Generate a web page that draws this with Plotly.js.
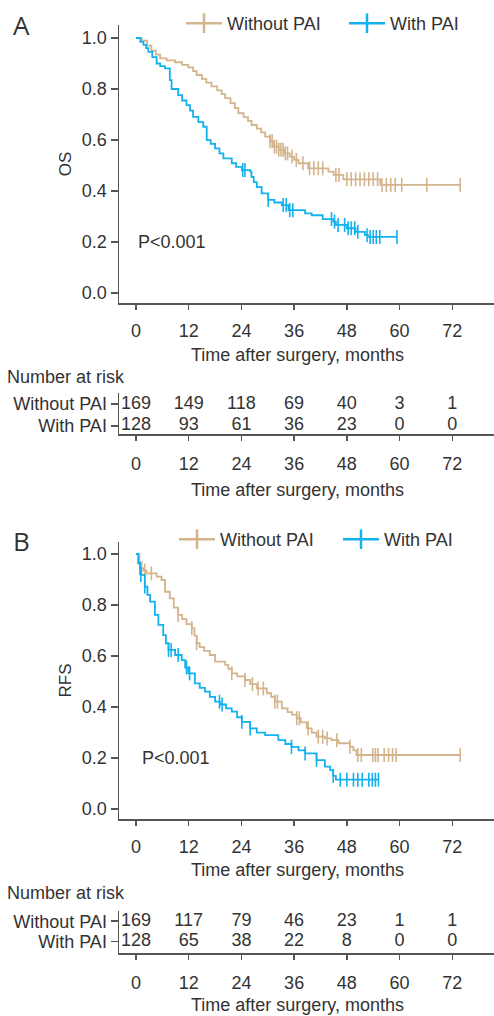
<!DOCTYPE html>
<html>
<head>
<meta charset="utf-8">
<script src="https://cdn.plot.ly/plotly-3.0.1.min.js"></script>
<style>html,body{margin:0;padding:0;background:#fff;}#chart{width:494px;height:1016px;}</style>
</head>
<body>
<div id="chart"></div>
<script>
// ---------- data ----------
const groups = ['Without PAI', 'With PAI'];
const tickTimes = [0, 12, 24, 36, 48, 60, 72];
const xTitle = 'Time after surgery, months';

// Number at risk
const riskA_without = [169, 149, 118, 69, 40, 3, 1];
const riskA_with    = [128, 93, 61, 36, 23, 0, 0];
const riskB_without = [169, 117, 79, 46, 23, 1, 1];
const riskB_with    = [128, 65, 38, 22, 8, 0, 0];

// Panel A: OS, Without PAI
const osWithoutT = [0, 1.3, 2.5, 3.5, 4.5, 5.5, 7, 8.9, 10.5, 11.9, 13, 13.8, 15, 16, 17.2, 18.5, 19.5, 20.3, 21.5, 22.5, 23.3, 24.5, 25.5, 26.3, 27.5, 28.5, 29.4, 30.5, 31.3, 32.5, 33.9, 35, 36, 37, 39.2, 43.8, 45, 47.2, 55.6];
const osWithoutS = [1.0, 0.99, 0.97, 0.95, 0.935, 0.92, 0.912, 0.905, 0.895, 0.885, 0.87, 0.855, 0.84, 0.825, 0.81, 0.795, 0.78, 0.764, 0.745, 0.725, 0.705, 0.69, 0.675, 0.659, 0.645, 0.63, 0.613, 0.595, 0.574, 0.562, 0.548, 0.535, 0.522, 0.509, 0.489, 0.476, 0.463, 0.446, 0.424];
const osWithoutEnd = 73.8;
const osWithoutCens = [30.5, 31, 31.5, 32, 32.5, 33, 33.5, 34, 34.5, 35.5, 36.5, 38, 39.5, 40.5, 41.5, 42.5, 45.5, 46.2, 48, 49, 50, 51, 52, 53, 54, 55, 56, 57, 58, 59, 60.5, 66.2, 73.8];

// Panel A: OS, With PAI
const osWithT = [0, 1, 1.7, 2.3, 2.8, 3.7, 4.7, 5.5, 6.6, 7.7, 8.1, 9.6, 10.5, 11.5, 12.3, 13, 14.2, 15.3, 16.1, 17, 18, 19, 19.9, 21.8, 22.8, 24.1, 26, 26.3, 26.8, 27.5, 28.6, 30.1, 31.5, 33.2, 34.7, 38.5, 40, 42.5, 44.9, 45.5, 48, 50, 52.1, 52.8];
const osWithS = [1.0, 0.985, 0.973, 0.96, 0.946, 0.925, 0.9, 0.89, 0.881, 0.835, 0.8, 0.776, 0.755, 0.737, 0.715, 0.691, 0.67, 0.652, 0.6, 0.585, 0.567, 0.548, 0.528, 0.509, 0.495, 0.482, 0.476, 0.455, 0.435, 0.415, 0.391, 0.365, 0.355, 0.345, 0.325, 0.3125, 0.305, 0.29, 0.28, 0.267, 0.254, 0.24, 0.227, 0.22];
const osWithEnd = 59.4;
const osWithCens = [24.3, 24.8, 30.1, 33.5, 34.2, 35, 35.7, 44.5, 45.2, 46, 47.5, 48.3, 49, 49.8, 50.5, 52.6, 53.3, 54, 54.7, 55.5, 59.4];

// Panel B: RFS, Without PAI
const rfsWithoutT = [0, 0.8, 1.2, 1.8, 2.4, 4.7, 5.8, 6.6, 7.7, 8.6, 9.6, 10.5, 11.5, 12.7, 13.3, 13.8, 14.5, 15.5, 16.8, 18, 20.3, 21, 21.8, 23, 24.8, 26, 27.5, 29.8, 30.8, 31.6, 33.2, 34.5, 35.5, 36.6, 37.5, 38.9, 40, 41.1, 43, 44.5, 46.1, 48.7, 49.5, 50.2];
const rfsWithoutS = [1.0, 0.96, 0.944, 0.935, 0.924, 0.911, 0.898, 0.852, 0.826, 0.79, 0.761, 0.745, 0.725, 0.709, 0.68, 0.65, 0.635, 0.62, 0.604, 0.578, 0.565, 0.55, 0.532, 0.52, 0.506, 0.49, 0.473, 0.454, 0.44, 0.421, 0.395, 0.38, 0.37, 0.356, 0.34, 0.316, 0.3, 0.284, 0.277, 0.27, 0.258, 0.244, 0.23, 0.212];
const rfsWithoutEnd = 73.8;
const rfsWithoutCens = [1.3, 2.0, 3.5, 9.6, 12.7, 13.8, 21.8, 24.8, 26.5, 27.8, 29, 31.6, 32.2, 36.6, 37.2, 39.2, 41.5, 42.5, 43.5, 45.7, 48.7, 50.5, 51.3, 53.9, 54.5, 55.1, 56.5, 57.5, 58.4, 59.2, 73.8];

// Panel B: RFS, With PAI
const rfsWithT = [0, 0.5, 0.9, 1.1, 2, 2.6, 3.2, 4.3, 5.1, 6.2, 6.8, 7.4, 8.9, 10.4, 11.2, 11.9, 13.4, 14.5, 15.7, 16.8, 18, 19.1, 20.5, 21.8, 23, 24.1, 26, 27.5, 29.4, 32.4, 34, 35.4, 37, 38.5, 41.1, 43, 44.2, 44.9, 45.5];
const rfsWithS = [1.0, 0.963, 0.944, 0.918, 0.872, 0.84, 0.813, 0.761, 0.722, 0.682, 0.65, 0.624, 0.604, 0.584, 0.555, 0.532, 0.493, 0.475, 0.46, 0.44, 0.421, 0.41, 0.395, 0.382, 0.36, 0.342, 0.316, 0.3, 0.29, 0.27, 0.255, 0.244, 0.23, 0.218, 0.192, 0.166, 0.153, 0.13, 0.115];
const rfsWithEnd = 55.2;
const rfsWithCens = [0.9, 1.1, 2, 7.4, 8, 9.6, 11.5, 12.2, 19, 19.6, 24.1, 26, 35.4, 38.5, 41.1, 44.9, 46.5, 48, 49.5, 50.5, 51.5, 53, 53.8, 54.5, 55.2];

// ---------- styling ----------
const TAN = '#D4B48C';
const BLUE = '#14B1EF';
const AXC = '#555555';
const TXT = '#333333';
const FONT = 'Liberation Sans, Arial, sans-serif';
const FS = 18;
const W = 494, H = 1016;
const px = v => v / W;
const py = v => (H - v) / H;

function stepXY(t, s, end) {
  return { x: t.concat([end]), y: s.concat([s[s.length - 1]]) };
}
function survAt(t, s, c) {
  let v = s[0];
  for (let i = 0; i < t.length; i++) if (t[i] <= c) v = s[i];
  return v;
}
function curveTraces(t, s, end, cens, color, xa, ya) {
  const st = stepXY(t, s, end);
  return [
    { x: st.x, y: st.y, mode: 'lines', line: { shape: 'hv', color: color, width: 1.8 },
      xaxis: xa, yaxis: ya, showlegend: false, hoverinfo: 'skip' },
    { x: cens, y: cens.map(c => survAt(t, s, c)), mode: 'markers',
      marker: { symbol: 'line-ns', size: 10, line: { color: color, width: 1.6 } },
      xaxis: xa, yaxis: ya, showlegend: false, hoverinfo: 'skip' }
  ];
}
function legendTrace(name, color, xa, ya, leg) {
  return { x: [null], y: [null], name: name, mode: 'lines+markers',
    line: { color: color, width: 2.5 },
    marker: { symbol: 'line-ns', size: 14, line: { color: color, width: 2.5 } },
    xaxis: xa, yaxis: ya, legend: leg, showlegend: true };
}
function riskTraces(vals1, vals2, xa, ya) {
  return [
    { x: tickTimes, y: tickTimes.map(() => 1), text: vals1.map(String), mode: 'text',
      textfont: { family: FONT, size: FS, color: TXT }, textposition: 'middle center',
      xaxis: xa, yaxis: ya, showlegend: false, hoverinfo: 'skip' },
    { x: tickTimes, y: tickTimes.map(() => 0), text: vals2.map(String), mode: 'text',
      textfont: { family: FONT, size: FS, color: TXT }, textposition: 'middle center',
      xaxis: xa, yaxis: ya, showlegend: false, hoverinfo: 'skip' }
  ];
}

const traces = [].concat(
  curveTraces(osWithoutT, osWithoutS, osWithoutEnd, osWithoutCens, TAN, 'x', 'y'),
  curveTraces(osWithT, osWithS, osWithEnd, osWithCens, BLUE, 'x', 'y'),
  [legendTrace(groups[0], TAN, 'x', 'y', 'legend'), legendTrace(groups[1], BLUE, 'x', 'y', 'legend')],
  riskTraces(riskA_without, riskA_with, 'x2', 'y2'),
  curveTraces(rfsWithoutT, rfsWithoutS, rfsWithoutEnd, rfsWithoutCens, TAN, 'x3', 'y3'),
  curveTraces(rfsWithT, rfsWithS, rfsWithEnd, rfsWithCens, BLUE, 'x3', 'y3'),
  [legendTrace(groups[0], TAN, 'x3', 'y3', 'legend2'), legendTrace(groups[1], BLUE, 'x3', 'y3', 'legend2')],
  riskTraces(riskB_without, riskB_with, 'x4', 'y4')
);

const xRange = [-3.87, 81.5];
function xAxis(anchor, standoff) {
  return {
    domain: [px(119), 1], anchor: anchor, range: xRange,
    tickvals: tickTimes, ticktext: tickTimes.map(String),
    ticks: 'outside', ticklen: 5, tickwidth: 1.5, tickcolor: AXC, ticklabelstandoff: standoff,
    showline: true, linecolor: AXC, linewidth: 1.5, showgrid: false, zeroline: false,
    tickfont: { family: FONT, size: FS, color: TXT },
    automargin: false, fixedrange: true
  };
}
function yAxisMain(anchor, top, bottom, range, title) {
  return {
    domain: [py(bottom), py(top)], anchor: anchor, range: range,
    tickvals: [0, 0.2, 0.4, 0.6, 0.8, 1.0], ticktext: ['0.0', '0.2', '0.4', '0.6', '0.8', '1.0'],
    ticks: 'outside', ticklen: 7, tickwidth: 1.5, tickcolor: AXC,
    showline: true, linecolor: AXC, linewidth: 1.5, showgrid: false, zeroline: false,
    tickfont: { family: FONT, size: FS, color: TXT },
    title: { text: title, font: { family: FONT, size: FS - 1, color: TXT }, standoff: 6 },
    automargin: false, fixedrange: true
  };
}
function yAxisTable(anchor, top, bottom, range) {
  return {
    domain: [py(bottom), py(top)], anchor: anchor, range: range,
    tickvals: [1, 0], ticktext: groups,
    ticks: 'outside', ticklen: 7, tickwidth: 1.5, tickcolor: AXC,
    showline: true, linecolor: AXC, linewidth: 1.5, showgrid: false, zeroline: false,
    tickfont: { family: FONT, size: FS, color: TXT },
    automargin: false, fixedrange: true
  };
}
function textAnn(text, x, y, xanchor, size, family) {
  return { text: text, x: px(x), y: py(y), xref: 'paper', yref: 'paper',
    xanchor: xanchor, yanchor: 'middle', showarrow: false,
    font: { family: family || FONT, size: size || FS, color: TXT } };
}

const layout = {
  width: W, height: H,
  margin: { l: 0, r: 0, t: 0, b: 0, autoexpand: false },
  paper_bgcolor: '#ffffff', plot_bgcolor: '#ffffff',
  font: { family: FONT, size: FS, color: TXT },
  xaxis: xAxis('y', 6),
  yaxis: yAxisMain('x', 25, 303, [-0.039, 1.051], 'OS'),
  xaxis2: xAxis('y2', 8),
  yaxis2: yAxisTable('x2', 393, 434, [-0.364, 1.5]),
  xaxis3: xAxis('y3', 6),
  yaxis3: yAxisMain('x3', 542, 819, [-0.039, 1.047], 'RFS'),
  xaxis4: xAxis('y4', 8),
  yaxis4: yAxisTable('x4', 911, 953, [-0.55, 1.5]),
  legend: { orientation: 'h', x: px(181), xanchor: 'left', y: py(5), yanchor: 'top',
    font: { family: FONT, size: FS, color: TXT }, bgcolor: 'rgba(0,0,0,0)',
    itemwidth: 36, entrywidth: 112, entrywidthmode: 'pixels' },
  legend2: { orientation: 'h', x: px(174), xanchor: 'left', y: py(521), yanchor: 'top',
    font: { family: FONT, size: FS, color: TXT }, bgcolor: 'rgba(0,0,0,0)',
    itemwidth: 36, entrywidth: 113, entrywidthmode: 'pixels' },
  annotations: [
    textAnn('A', 21, 25, 'center', 26, 'Open Sans, sans-serif'),
    textAnn('B', 21, 541, 'center', 26, 'Open Sans, sans-serif'),
    textAnn('P<0.001', 136, 242, 'left'),
    textAnn('P<0.001', 140, 758, 'left'),
    textAnn('Number at risk', 5, 377, 'left'),
    textAnn('Number at risk', 5, 893, 'left'),
    textAnn(xTitle, 297, 355, 'center'),
    textAnn(xTitle, 297, 490, 'center'),
    textAnn(xTitle, 297, 870, 'center'),
    textAnn(xTitle, 297, 1005, 'center')
  ]
};

Plotly.newPlot('chart', traces, layout, { staticPlot: true, displayModeBar: false });
</script>
</body>
</html>
